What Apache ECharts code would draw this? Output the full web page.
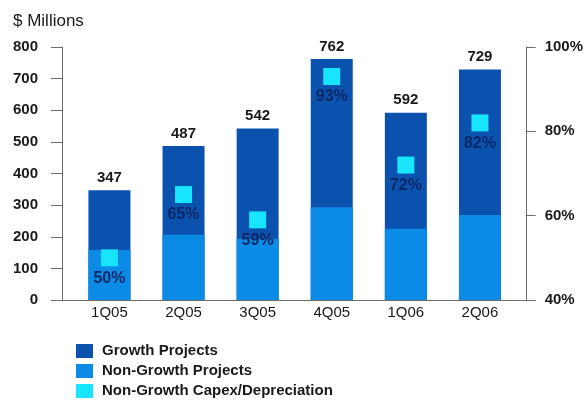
<!DOCTYPE html>
<html>
<head>
<meta charset="utf-8">
<script src="https://cdn.jsdelivr.net/npm/echarts@6/dist/echarts.min.js"></script>
<style>
  html, body { margin: 0; padding: 0; background: #ffffff; }
  #chart { width: 586px; height: 402px; }
</style>
</head>
<body>
<div id="chart"></div>
<script>
// Quarterly capital spending, $ millions
const quarters = ['1Q05', '2Q05', '3Q05', '4Q05', '1Q06', '2Q06'];
const totalSpend = [347, 487, 542, 762, 592, 729];
const nonGrowthSpend = [158, 206, 194, 293, 225, 269];
// Non-growth capex as a share of depreciation, %
const capexToDepreciation = [50, 65, 59, 93, 72, 82];

const FONT = '"Liberation Sans", Arial, sans-serif';
const TEXT = '#1a1a1a';
const AXIS = '#6b6b6b';

const chart = echarts.init(document.getElementById('chart'));

chart.setOption({
  backgroundColor: '#ffffff',
  animation: false,
  textStyle: { fontFamily: FONT },
  title: {
    text: '$ Millions',
    left: 8,
    top: 8,
    textStyle: { fontSize: 17, fontWeight: 'normal', color: TEXT, fontFamily: FONT }
  },
  legend: {
    orient: 'vertical',
    left: 76,
    top: 343,
    padding: 0,
    itemWidth: 17,
    itemHeight: 14,
    itemGap: 4,
    icon: 'rect',
    data: ['Growth Projects', 'Non-Growth Projects', 'Non-Growth Capex/Depreciation'],
    textStyle: { fontSize: 15, lineHeight: 16, fontWeight: 'bold', color: TEXT, fontFamily: FONT, padding: [0, 0, 0, 4] }
  },
  grid: { left: 62, right: 59, top: 47, bottom: 102 },
  xAxis: {
    type: 'value',
    min: -0.64,
    max: 5.63,
    axisLine: { show: true, onZero: false, lineStyle: { color: AXIS, width: 1 } },
    axisTick: { show: false },
    splitLine: { show: false },
    axisLabel: {
      customValues: quarters.map((q, i) => i),
      formatter: v => quarters[Math.round(v)] || '',
      margin: 5,
      fontSize: 15,
      color: TEXT,
      fontFamily: FONT
    }
  },
  yAxis: [
    {
      type: 'value',
      min: 0,
      max: 800,
      interval: 100,
      axisLine: { show: true, onZero: false, lineStyle: { color: AXIS, width: 1 } },
      axisTick: { show: true, length: 11, lineStyle: { color: AXIS } },
      splitLine: { show: false },
      axisLabel: { margin: 24, fontSize: 15, fontWeight: 'bold', color: TEXT, fontFamily: FONT }
    },
    {
      type: 'value',
      position: 'right',
      min: 40,
      max: 100,
      interval: 20,
      axisLine: { show: true, onZero: false, lineStyle: { color: AXIS, width: 1 } },
      axisTick: { show: true, length: 9, lineStyle: { color: AXIS } },
      splitLine: { show: false },
      axisLabel: { margin: 18, fontSize: 15, fontWeight: 'bold', color: TEXT, fontFamily: FONT, formatter: '{value}%' }
    }
  ],
  series: [
    {
      // full bar height is the quarter's total; the lighter non-growth part sits over its base
      name: 'Growth Projects',
      type: 'bar',
      barWidth: 42,
      barGap: '-100%',
      itemStyle: { color: '#0a52ae' },
      label: {
        show: true,
        position: 'top',
        distance: 5,
        fontSize: 15,
        fontWeight: 'bold',
        color: TEXT,
        fontFamily: FONT,
        formatter: p => p.value[1]
      },
      data: totalSpend.map((v, i) => [i, v])
    },
    {
      name: 'Non-Growth Projects',
      type: 'bar',
      barWidth: 42,
      barGap: '-100%',
      itemStyle: { color: '#0b8be6' },
      data: nonGrowthSpend.map((v, i) => [i, v])
    },
    {
      name: 'Non-Growth Capex/Depreciation',
      type: 'scatter',
      yAxisIndex: 1,
      symbol: 'rect',
      symbolSize: 17,
      itemStyle: { color: '#18e4fc', opacity: 1 },
      label: {
        show: true,
        position: 'bottom',
        distance: 4,
        fontSize: 16,
        fontWeight: 'bold',
        color: '#0c2766',
        fontFamily: FONT,
        formatter: p => p.value[1] + '%'
      },
      data: capexToDepreciation.map((v, i) => [i, v])
    }
  ]
});
</script>
</body>
</html>
